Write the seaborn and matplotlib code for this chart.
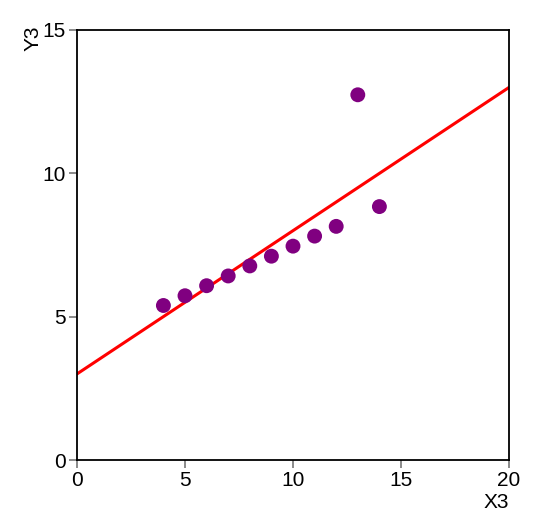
import numpy as np
import pandas as pd
import seaborn as sns
import matplotlib.pyplot as plt

x3 = [10, 8, 13, 9, 11, 14, 6, 4, 12, 7, 5]
y3 = [7.46, 6.77, 12.74, 7.11, 7.81, 8.84, 6.08, 5.39, 8.15, 6.42, 5.73]
xticks = [0, 5, 10, 15, 20]
yticks = [0, 5, 10, 15]

df = pd.DataFrame({"X3": x3, "Y3": y3})

sns.set_style("ticks")
plt.rcParams['font.family'] = ['Liberation Sans', 'DejaVu Sans']
plt.rcParams['text.color'] = 'black'
plt.rcParams['axes.labelcolor'] = 'black'
plt.rcParams['xtick.labelcolor'] = 'black'
plt.rcParams['ytick.labelcolor'] = 'black'

fig = plt.figure(figsize=(5.4, 5.21), dpi=100)
ax = fig.add_axes([77/540, 61/521, 432/540, 430/521])

# least squares fit line across the whole x range
slope, icept = np.polyfit(df["X3"], df["Y3"], 1)
fit = pd.DataFrame({"x": [xticks[0], xticks[-1]]})
fit["y"] = icept + slope * fit["x"]
sns.lineplot(data=fit, x="x", y="y", color="red", linewidth=2.2, ax=ax, zorder=2)

sns.scatterplot(data=df, x="X3", y="Y3", color="#800080", s=115, edgecolor="none", ax=ax, zorder=3)

ax.set_xlim(0, 20)
ax.set_ylim(0, 15)
ax.set_xticks(xticks)
ax.set_yticks(yticks)
ax.tick_params(direction="out", length=6, width=1.2, color="#777777", labelsize=15, pad=2)
for sp in ax.spines.values():
    sp.set_linewidth(1.3)
    sp.set_color("black")

ax.set_xlabel("X3", fontsize=15, loc="right", labelpad=2)
ax.set_ylabel("Y3", fontsize=15, loc="top")
ax.yaxis.set_label_coords(-0.08, 1.01, transform=ax.transAxes)
ax.yaxis.label.set_horizontalalignment("right")

plt.savefig("out.png", dpi=100)
